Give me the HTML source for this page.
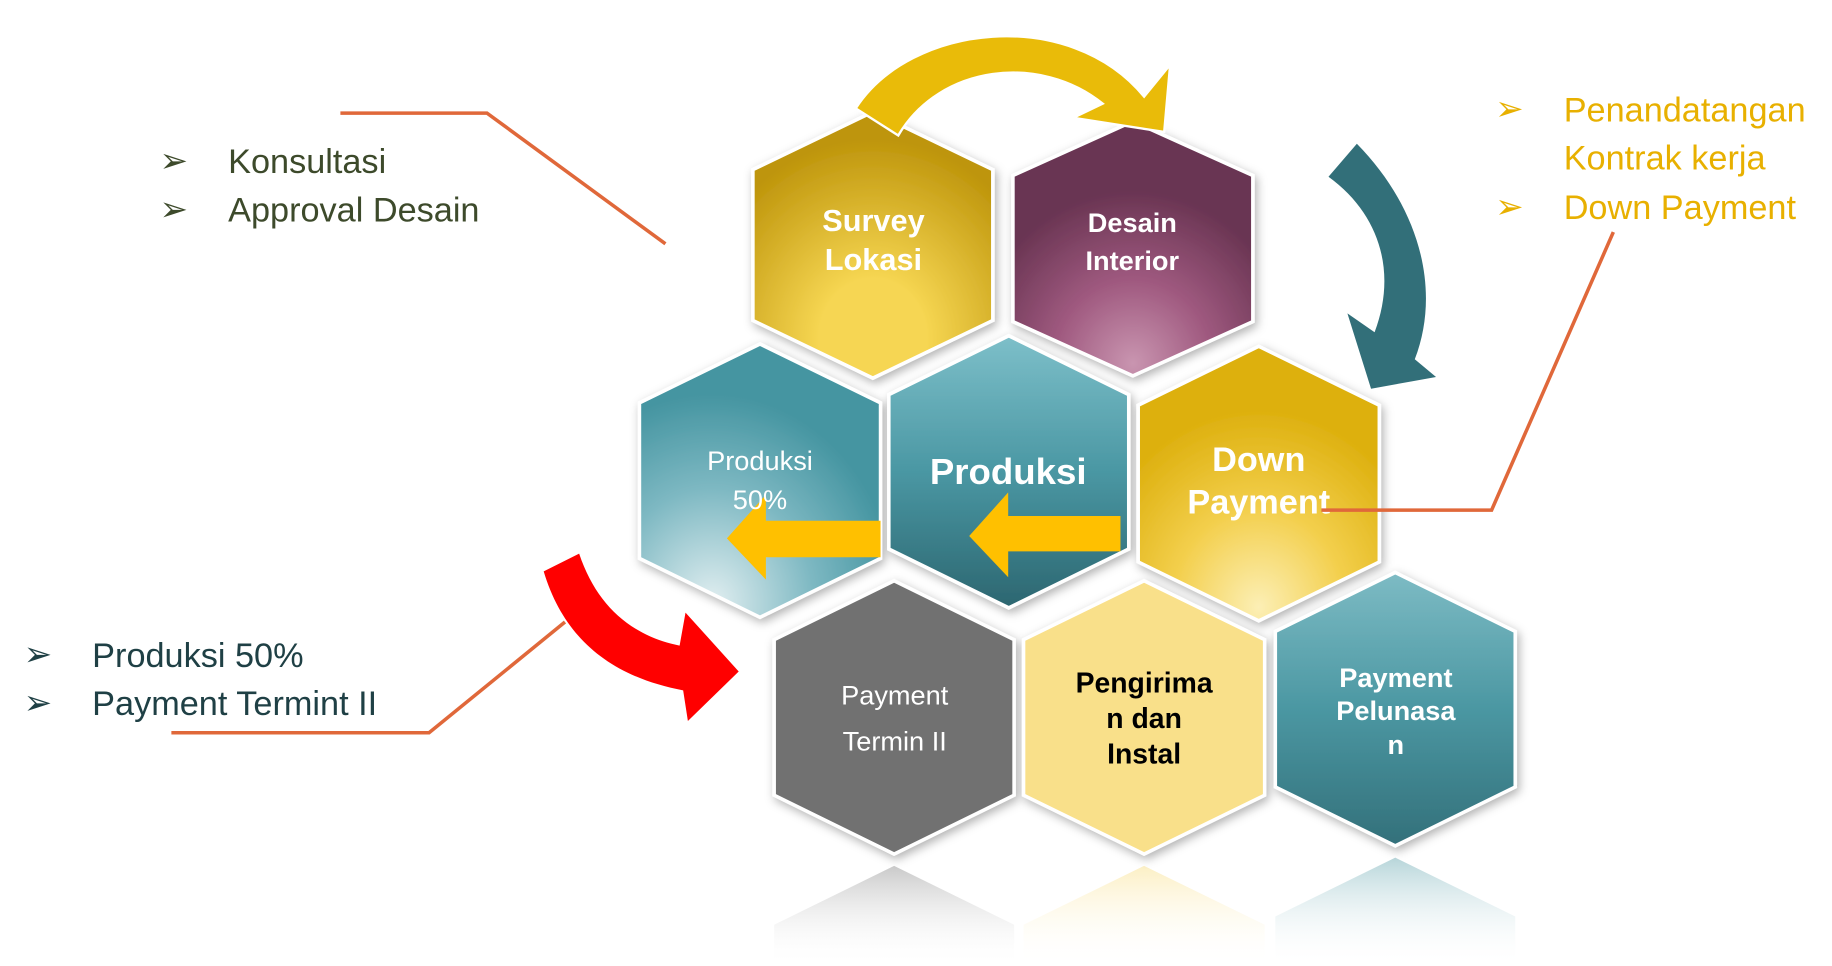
<!DOCTYPE html>
<html><head><meta charset="utf-8"><style>
html,body{margin:0;padding:0;background:#fff;width:1832px;height:966px;overflow:hidden}
svg{display:block}
text{font-family:"Liberation Sans",sans-serif}
</style></head><body>
<svg width="1832" height="966" viewBox="0 0 1550 820" preserveAspectRatio="none" xmlns="http://www.w3.org/2000/svg">
<defs>
<radialGradient id="gS" cx="0.5" cy="0.85" r="0.75"><stop offset="0.3" stop-color="#F6D652"/><stop offset="1" stop-color="#BE950B"/></radialGradient>
<radialGradient id="gD" cx="0.5" cy="0.95" r="0.8"><stop offset="0" stop-color="#C995B0"/><stop offset="0.4" stop-color="#A05A80"/><stop offset="0.85" stop-color="#693452"/></radialGradient>
<radialGradient id="gP5" cx="0.3" cy="0.95" r="0.85"><stop offset="0" stop-color="#E2EFF1"/><stop offset="0.5" stop-color="#7DB8C2"/><stop offset="0.9" stop-color="#4595A1"/></radialGradient>
<linearGradient id="gP" x1="0" y1="0" x2="0" y2="1"><stop offset="0" stop-color="#7DBFC9"/><stop offset="0.5" stop-color="#4A97A3"/><stop offset="1" stop-color="#2C6670"/></linearGradient>
<radialGradient id="gDP" cx="0.5" cy="0.95" r="0.8"><stop offset="0" stop-color="#FCEFB5"/><stop offset="0.45" stop-color="#F3CF4C"/><stop offset="0.9" stop-color="#DDB00E"/></radialGradient>
<linearGradient id="gPL" x1="0" y1="0" x2="0" y2="1"><stop offset="0" stop-color="#7DBBC4"/><stop offset="0.5" stop-color="#4B97A2"/><stop offset="1" stop-color="#33707A"/></linearGradient>
<linearGradient id="rf1" x1="0" y1="0" x2="0" y2="1"><stop offset="0" stop-color="#888" stop-opacity="0.45"/><stop offset="1" stop-color="#fff" stop-opacity="0"/></linearGradient>
<linearGradient id="rf2" x1="0" y1="0" x2="0" y2="1"><stop offset="0" stop-color="#F9E08A" stop-opacity="0.5"/><stop offset="1" stop-color="#fff" stop-opacity="0"/></linearGradient>
<linearGradient id="rf3" x1="0" y1="0" x2="0" y2="1"><stop offset="0" stop-color="#4B97A2" stop-opacity="0.4"/><stop offset="1" stop-color="#fff" stop-opacity="0"/></linearGradient>
<filter id="sh" x="-20%" y="-20%" width="140%" height="140%"><feDropShadow dx="2" dy="3" stdDeviation="4" flood-color="#000" flood-opacity="0.3"/></filter>
</defs>

<polygon points="756.5,735 858,785 858,820 655,820 655,785" fill="url(#rf1)"/>
<polygon points="968,735 1070,785 1070,820 866,820 866,785" fill="url(#rf2)"/>
<polygon points="1180.5,728 1282,778 1282,820 1079,820 1079,778" fill="url(#rf3)"/>

<g stroke="#fff" stroke-width="3" filter="url(#sh)">
<polygon points="738.5,95 840,144 840,272 738.5,321 637,272 637,144" fill="url(#gS)"/>
<polygon points="958.5,103 1060,149 1060,273 958.5,319 857,273 857,149" fill="url(#gD)"/>
<polygon points="643,292 745,342 745,474 643,524 541,474 541,342" fill="url(#gP5)"/>
<polygon points="853.5,285 955,335 955,466 853.5,516 752,466 752,335" fill="url(#gP)"/>
<polygon points="1065,294 1167,344 1167,477 1065,527 963,477 963,344" fill="url(#gDP)"/>
<polygon points="756.5,493 858,543 858,675 756.5,725 655,675 655,543" fill="#717171"/>
<polygon points="968,493 1070,543 1070,675 968,725 866,675 866,543" fill="#F9E08A"/>
<polygon points="1180.5,486 1282,536 1282,668 1180.5,718 1079,668 1079,536" fill="url(#gPL)"/>
</g>

<path d="M724,92 C770,20 905,5 968,82 L990,55 L985,112 L908,100 L933,88 C880,45 795,55 760,115 Z" fill="#E9BB09" stroke="#fff" stroke-width="2"/>
<path d="M1148,122 C1200,175 1220,245 1197,305 L1215,320 L1160,330 L1140,266 L1163,282 C1182,232 1168,182 1124,150 Z" fill="#326F79"/>
<path d="M460,485 L490,470 C505,515 535,540 575,548 L580,520 L625,570 L582,612 L578,586 C520,575 478,545 460,485 Z" fill="#FF0000"/>
<path d="M745,442 L648,442 L648,420 L615,457 L648,492 L648,473 L745,473 Z" fill="#FFC000"/>
<path d="M948,438 L853,438 L853,418 L820,455 L853,490 L853,468 L948,468 Z" fill="#FFC000"/>

<g fill="#fff" font-weight="bold" text-anchor="middle">
<text x="739" y="196" font-size="26">Survey</text>
<text x="739" y="229" font-size="26">Lokasi</text>
<text x="958" y="197" font-size="23">Desain</text>
<text x="958" y="229" font-size="23">Interior</text>
<text x="643" y="399" font-size="23" font-weight="normal">Produksi</text>
<text x="643" y="432" font-size="23" font-weight="normal">50%</text>
<text x="853" y="411" font-size="31">Produksi</text>
<text x="1065" y="400" font-size="29">Down</text>
<text x="1065" y="436" font-size="29">Payment</text>
<text x="757" y="598" font-size="23" font-weight="normal">Payment</text>
<text x="757" y="637" font-size="23" font-weight="normal">Termin II</text>
<text x="1181" y="583" font-size="23">Payment</text>
<text x="1181" y="611" font-size="23">Pelunasa</text>
<text x="1181" y="640" font-size="23">n</text>
</g>
<g fill="#000" font-weight="bold" text-anchor="middle" font-size="24">
<text x="968" y="588">Pengirima</text>
<text x="968" y="618">n dan</text>
<text x="968" y="648">Instal</text>
</g>

<g stroke="#E0683A" stroke-width="3" fill="none">
<polyline points="288,96 412,96 563,207"/>
<polyline points="1365,197 1262,433 1118,433"/>
<polyline points="145,622 363,622 478,528"/>
</g>

<g font-size="29">
<text x="135" y="146" fill="#3D4A2B">➢</text><text x="193" y="147" fill="#3D4A2B">Konsultasi</text>
<text x="135" y="187" fill="#3D4A2B">➢</text><text x="193" y="188" fill="#3D4A2B">Approval Desain</text>
<text x="1265" y="102" fill="#E8B000">➢</text><text x="1323" y="103" fill="#E8B000">Penandatangan</text>
<text x="1323" y="144" fill="#E8B000">Kontrak kerja</text>
<text x="1265" y="185" fill="#E8B000">➢</text><text x="1323" y="186" fill="#E8B000">Down Payment</text>
<text x="20" y="565" fill="#1F4045">➢</text><text x="78" y="566" fill="#1F4045">Produksi 50%</text>
<text x="20" y="606" fill="#1F4045">➢</text><text x="78" y="607" fill="#1F4045">Payment Termint II</text>
</g>
</svg>
</body></html>
